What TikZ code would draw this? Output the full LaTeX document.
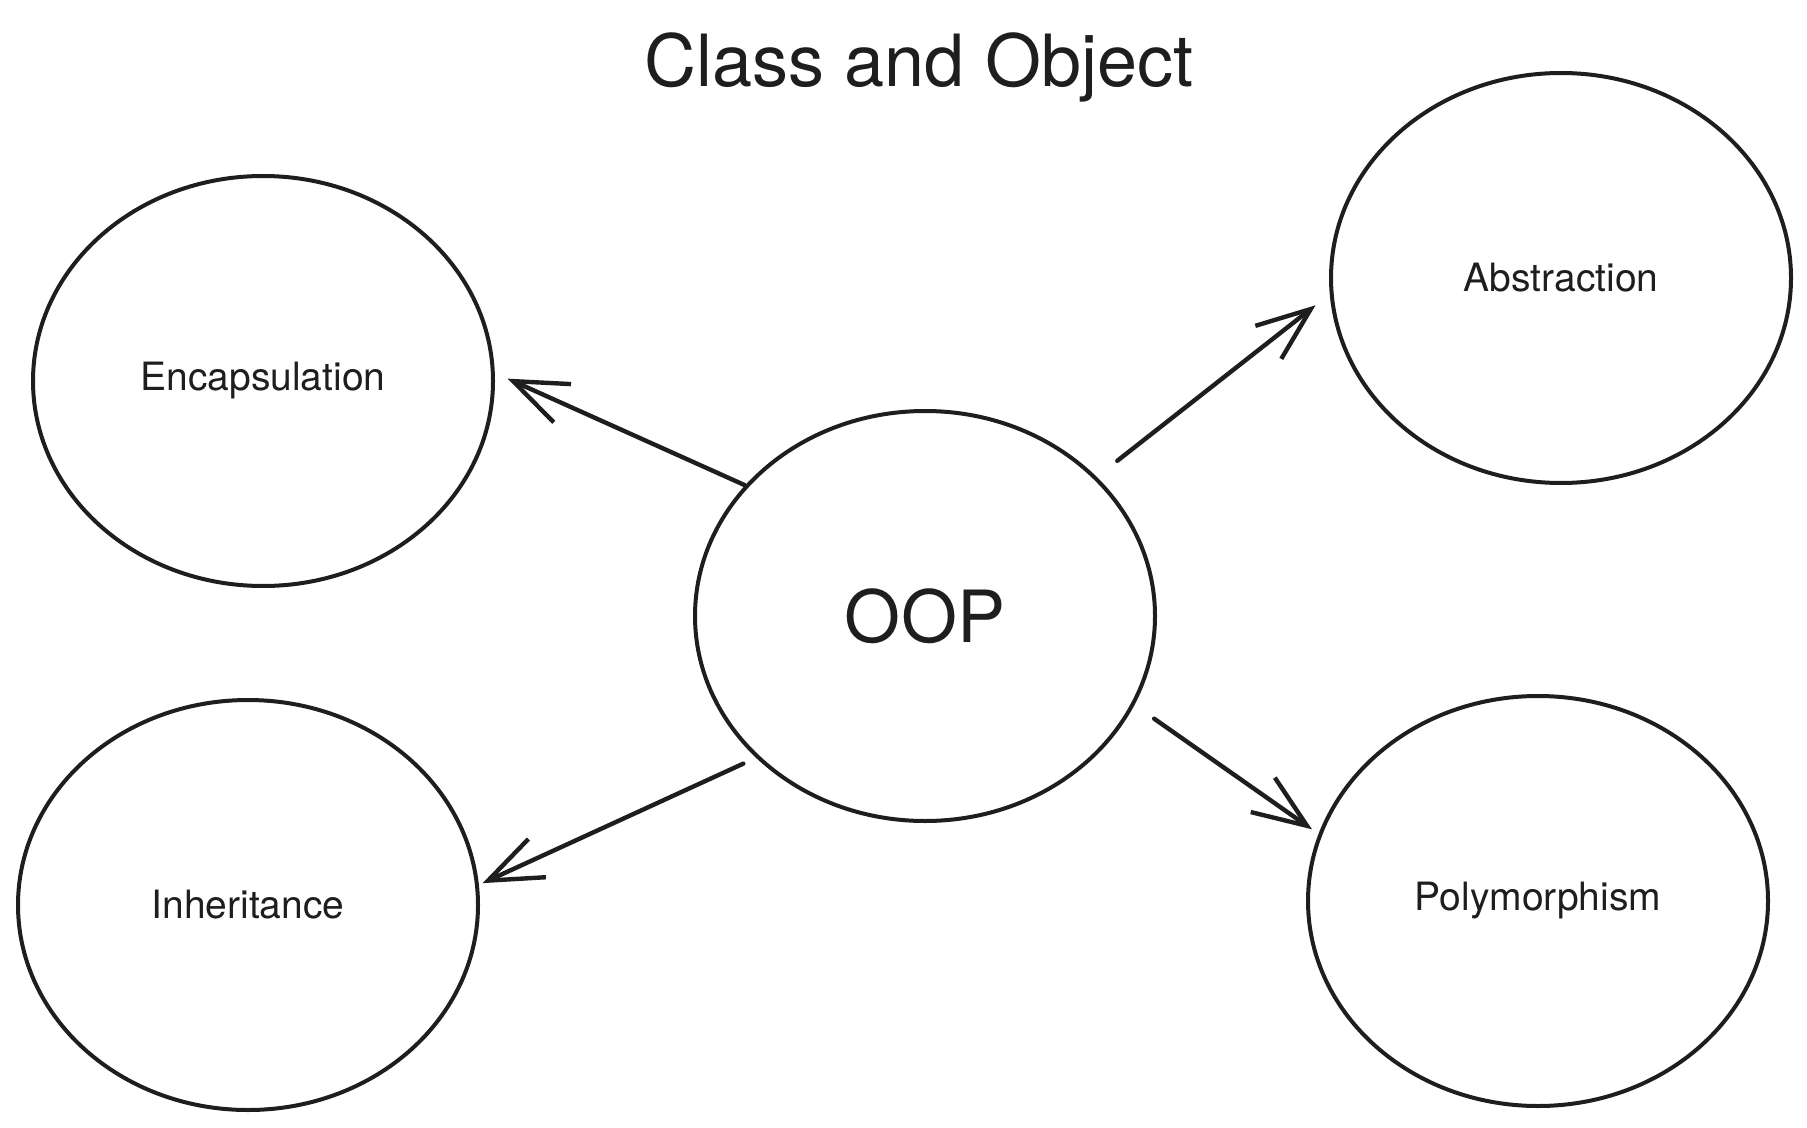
\documentclass[tikz,border=0pt]{standalone}
\usepackage{fontspec}
\setmainfont{TeX Gyre Heros}
\usetikzlibrary{shapes.geometric,arrows.meta}
\definecolor{ink}{HTML}{1E1E1E}
\begin{document}
\begin{tikzpicture}[x=0.5pt,y=-0.5pt,line join=round,line cap=round,
		idea/.style={draw=ink,text=ink,ellipse,line width=2pt,inner sep=0pt,
			minimum width=230pt,minimum height=205pt,font=\fontsize{19.5}{23}\selectfont},
		link/.style={draw=ink,line width=2.2pt,-{Straight Barb[length=27pt,width=21pt,line width=2.2pt]}}]
	\useasboundingbox (0,0) rectangle (1807,1128);
	\node[anchor=base,text=ink,font=\fontsize{36}{44}\selectfont] (title) at (919,87) {Class and Object};
	% the four ideas round the centre
	\node[idea] (enc) at (263,381) {Encapsulation};
	\node[idea] (abs) at (1561,278) {Abstraction};
	\node[idea] (inh) at (248,905) {Inheritance};
	\node[idea] (poly) at (1538,901) {Polymorphism};
	\node[idea,font=\fontsize{36}{44}\selectfont] (oop) at (925,616) {OOP};
	% arrows
	\draw[link,shorten >=7pt] (oop.144) -- (enc.2);
	\draw[link,shorten <=13pt,shorten >=9pt] (oop.39) -- (abs.184);
	\draw[link,shorten <=7pt,shorten >=2pt] (oop.220) -- (inh.5);
	\draw[link,shorten <=12pt,shorten >=4pt] (oop.-23) -- (poly.163);
\end{tikzpicture}
\end{document}
